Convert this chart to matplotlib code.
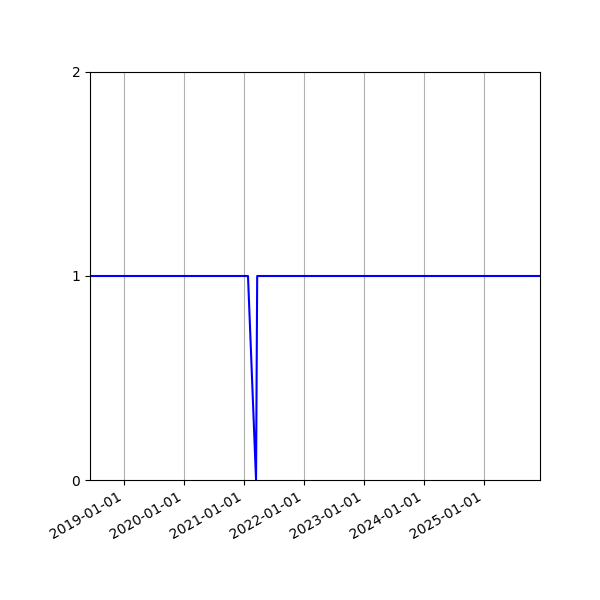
import matplotlib
matplotlib.use("Agg")
import matplotlib.pyplot as plt
import matplotlib.dates as mdates
import numpy as np

dates = np.array(['2018-06-07', '2021-01-24', '2021-03-14', '2021-03-21', '2025-12-07'], dtype='datetime64[D]')
values = [1, 1, 0, 1, 1]
y_ticks = [0, 1, 2]

fig = plt.figure(figsize=(6, 6), dpi=100)
ax = fig.add_axes([0.15, 0.2, 0.75, 0.68])
ax.plot(dates, values, color='blue', linewidth=1.5)
ax.set_xlim(dates[0], dates[-1])
ax.set_ylim(0, 2)
ax.set_yticks(y_ticks)
ax.xaxis.set_major_locator(mdates.YearLocator())
ax.xaxis.set_major_formatter(mdates.DateFormatter('%Y-%m-%d'))
ax.grid(True, axis='x')
for lbl in ax.get_xticklabels():
    lbl.set_rotation(30)
    lbl.set_ha('right')
fig.savefig('out.png')
